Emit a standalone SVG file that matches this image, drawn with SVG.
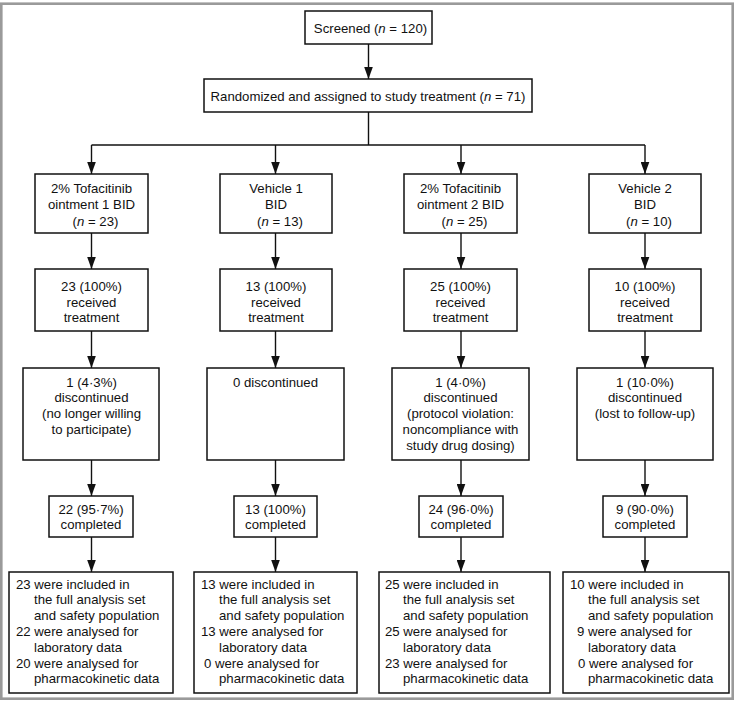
<svg xmlns="http://www.w3.org/2000/svg" width="736" height="701" viewBox="0 0 736 701">
<style>
.frame{fill:#fff;stroke:#9a9a9a;stroke-width:2.6}
.box{fill:#fff;stroke:#111;stroke-width:1.5}
.t{font-family:"Liberation Sans",Arial,Helvetica,sans-serif;font-size:13.2px;fill:#111}
.c{text-anchor:middle}
.conn{fill:none;stroke:#111;stroke-width:1.4}
.it{font-style:italic}
</style>
<defs>
<marker id="ah" markerUnits="userSpaceOnUse" markerWidth="13" markerHeight="9" refX="12.5" refY="4.5" orient="auto">
<path d="M0,0 L12.5,4.5 L0,9 Z" fill="#111"/>
</marker>
</defs>
<rect class="frame" x="1.3" y="3.7" width="731.4" height="695"/>

<g id="connectors">
<line class="conn" x1="368.5" y1="44" x2="368.5" y2="79" marker-end="url(#ah)"/>
<polyline class="conn" points="368.5,112 368.5,145"/>
<line class="conn" x1="91.5" y1="145" x2="645" y2="145"/>
<line class="conn" x1="91.5" y1="145" x2="91.5" y2="174" marker-end="url(#ah)"/>
<line class="conn" x1="275.5" y1="145" x2="275.5" y2="174" marker-end="url(#ah)"/>
<line class="conn" x1="461" y1="145" x2="461" y2="174" marker-end="url(#ah)"/>
<line class="conn" x1="645" y1="145" x2="645" y2="174" marker-end="url(#ah)"/>

<line class="conn" x1="91.5" y1="233" x2="91.5" y2="269" marker-end="url(#ah)"/>
<line class="conn" x1="275.5" y1="233" x2="275.5" y2="269" marker-end="url(#ah)"/>
<line class="conn" x1="461" y1="233" x2="461" y2="269" marker-end="url(#ah)"/>
<line class="conn" x1="645" y1="233" x2="645" y2="269" marker-end="url(#ah)"/>

<line class="conn" x1="91.5" y1="331" x2="91.5" y2="368" marker-end="url(#ah)"/>
<line class="conn" x1="275.5" y1="331" x2="275.5" y2="368" marker-end="url(#ah)"/>
<line class="conn" x1="461" y1="331" x2="461" y2="368" marker-end="url(#ah)"/>
<line class="conn" x1="645" y1="331" x2="645" y2="368" marker-end="url(#ah)"/>

<line class="conn" x1="91.5" y1="460" x2="91.5" y2="496" marker-end="url(#ah)"/>
<line class="conn" x1="275.5" y1="460" x2="275.5" y2="496" marker-end="url(#ah)"/>
<line class="conn" x1="461" y1="460" x2="461" y2="496" marker-end="url(#ah)"/>
<line class="conn" x1="645" y1="460" x2="645" y2="496" marker-end="url(#ah)"/>

<line class="conn" x1="91.5" y1="537" x2="91.5" y2="572" marker-end="url(#ah)"/>
<line class="conn" x1="275.5" y1="537" x2="275.5" y2="572" marker-end="url(#ah)"/>
<line class="conn" x1="461" y1="537" x2="461" y2="572" marker-end="url(#ah)"/>
<line class="conn" x1="645" y1="537" x2="645" y2="572" marker-end="url(#ah)"/>
</g>

<g id="screened">
<rect class="box" x="305" y="11" width="127" height="33"/>
<text class="t c" x="370.5" y="32.5">Screened (<tspan class="it">n</tspan> = 120)</text>
</g>
<g id="randomized">
<rect class="box" x="204" y="79" width="328" height="33"/>
<text class="t c" x="368" y="100.5">Randomized and assigned to study treatment (<tspan class="it">n</tspan> = 71)</text>
</g>

<g id="arm1">
<rect class="box" x="35" y="174" width="113" height="59"/>
<text class="t c" x="91.5" y="192.5">2% Tofacitinib</text>
<text class="t c" x="91.5" y="209">ointment 1 BID</text>
<text class="t c" x="95.5" y="225.5">(<tspan class="it">n</tspan> = 23)</text>
</g>
<g id="arm2">
<rect class="box" x="220" y="174" width="112" height="59"/>
<text class="t c" x="276" y="192.5">Vehicle 1</text>
<text class="t c" x="276" y="209">BID</text>
<text class="t c" x="280" y="225.5">(<tspan class="it">n</tspan> = 13)</text>
</g>
<g id="arm3">
<rect class="box" x="404" y="174" width="113" height="59"/>
<text class="t c" x="460.5" y="192.5">2% Tofacitinib</text>
<text class="t c" x="460.5" y="209">ointment 2 BID</text>
<text class="t c" x="464.5" y="225.5">(<tspan class="it">n</tspan> = 25)</text>
</g>
<g id="arm4">
<rect class="box" x="589" y="174" width="112" height="59"/>
<text class="t c" x="645" y="192.5">Vehicle 2</text>
<text class="t c" x="645" y="209">BID</text>
<text class="t c" x="649" y="225.5">(<tspan class="it">n</tspan> = 10)</text>
</g>

<g id="received1">
<rect class="box" x="35" y="269" width="113" height="62"/>
<text class="t c" x="91.5" y="291">23 (100%)</text>
<text class="t c" x="91.5" y="306.5">received</text>
<text class="t c" x="91.5" y="322">treatment</text>
</g>
<g id="received2">
<rect class="box" x="220" y="269" width="112" height="62"/>
<text class="t c" x="276" y="291">13 (100%)</text>
<text class="t c" x="276" y="306.5">received</text>
<text class="t c" x="276" y="322">treatment</text>
</g>
<g id="received3">
<rect class="box" x="404" y="269" width="113" height="62"/>
<text class="t c" x="460.5" y="291">25 (100%)</text>
<text class="t c" x="460.5" y="306.5">received</text>
<text class="t c" x="460.5" y="322">treatment</text>
</g>
<g id="received4">
<rect class="box" x="589" y="269" width="112" height="62"/>
<text class="t c" x="645" y="291">10 (100%)</text>
<text class="t c" x="645" y="306.5">received</text>
<text class="t c" x="645" y="322">treatment</text>
</g>

<g id="discontinued1">
<rect class="box" x="23" y="368" width="136" height="92"/>
<text class="t c" x="91.5" y="386.5">1 (4·3%)</text>
<text class="t c" x="91.5" y="402.3">discontinued</text>
<text class="t c" x="91.5" y="418.1">(no longer willing</text>
<text class="t c" x="91.5" y="433.9">to participate)</text>
</g>
<g id="discontinued2">
<rect class="box" x="207" y="368" width="137" height="92"/>
<text class="t c" x="275.5" y="386.5">0 discontinued</text>
</g>
<g id="discontinued3">
<rect class="box" x="392" y="368" width="137" height="92"/>
<text class="t c" x="460.5" y="386.5">1 (4·0%)</text>
<text class="t c" x="460.5" y="402.3">discontinued</text>
<text class="t c" x="460.5" y="418.1">(protocol violation:</text>
<text class="t c" x="460.5" y="433.9">noncompliance with</text>
<text class="t c" x="460.5" y="449.7">study drug dosing)</text>
</g>
<g id="discontinued4">
<rect class="box" x="577" y="368" width="136" height="92"/>
<text class="t c" x="645" y="386.5">1 (10·0%)</text>
<text class="t c" x="645" y="402.3">discontinued</text>
<text class="t c" x="645" y="418.1">(lost to follow-up)</text>
</g>

<g id="completed1">
<rect class="box" x="49" y="496" width="84" height="41"/>
<text class="t c" x="91" y="513.5">22 (95·7%)</text>
<text class="t c" x="91" y="529">completed</text>
</g>
<g id="completed2">
<rect class="box" x="234" y="496" width="83" height="41"/>
<text class="t c" x="275.5" y="513.5">13 (100%)</text>
<text class="t c" x="275.5" y="529">completed</text>
</g>
<g id="completed3">
<rect class="box" x="419" y="496" width="84" height="41"/>
<text class="t c" x="461" y="513.5">24 (96·0%)</text>
<text class="t c" x="461" y="529">completed</text>
</g>
<g id="completed4">
<rect class="box" x="603" y="496" width="84" height="41"/>
<text class="t c" x="645" y="513.5">9 (90·0%)</text>
<text class="t c" x="645" y="529">completed</text>
</g>

<g id="analysis1">
<rect class="box" x="9" y="572" width="164" height="121"/>
<text class="t" x="16" y="588.5">23 were included in</text>
<text class="t" x="34" y="604.3">the full analysis set</text>
<text class="t" x="34" y="620.1">and safety population</text>
<text class="t" x="16" y="635.9">22 were analysed for</text>
<text class="t" x="34" y="651.7">laboratory data</text>
<text class="t" x="16" y="667.5">20 were analysed for</text>
<text class="t" x="34" y="683.3">pharmacokinetic data</text>
</g>
<g id="analysis2">
<rect class="box" x="194" y="572" width="163" height="121"/>
<text class="t" x="201" y="588.5">13 were included in</text>
<text class="t" x="219" y="604.3">the full analysis set</text>
<text class="t" x="219" y="620.1">and safety population</text>
<text class="t" x="201" y="635.9">13 were analysed for</text>
<text class="t" x="219" y="651.7">laboratory data</text>
<text class="t" x="204" y="667.5">0 were analysed for</text>
<text class="t" x="219" y="683.3">pharmacokinetic data</text>
</g>
<g id="analysis3">
<rect class="box" x="379" y="572" width="171" height="121"/>
<text class="t" x="385" y="588.5">25 were included in</text>
<text class="t" x="403" y="604.3">the full analysis set</text>
<text class="t" x="403" y="620.1">and safety population</text>
<text class="t" x="385" y="635.9">25 were analysed for</text>
<text class="t" x="403" y="651.7">laboratory data</text>
<text class="t" x="385" y="667.5">23 were analysed for</text>
<text class="t" x="403" y="683.3">pharmacokinetic data</text>
</g>
<g id="analysis4">
<rect class="box" x="563" y="572" width="166" height="121"/>
<text class="t" x="570" y="588.5">10 were included in</text>
<text class="t" x="588" y="604.3">the full analysis set</text>
<text class="t" x="588" y="620.1">and safety population</text>
<text class="t" x="577" y="635.9">9 were analysed for</text>
<text class="t" x="588" y="651.7">laboratory data</text>
<text class="t" x="578" y="667.5">0 were analysed for</text>
<text class="t" x="588" y="683.3">pharmacokinetic data</text>
</g>
</svg>
